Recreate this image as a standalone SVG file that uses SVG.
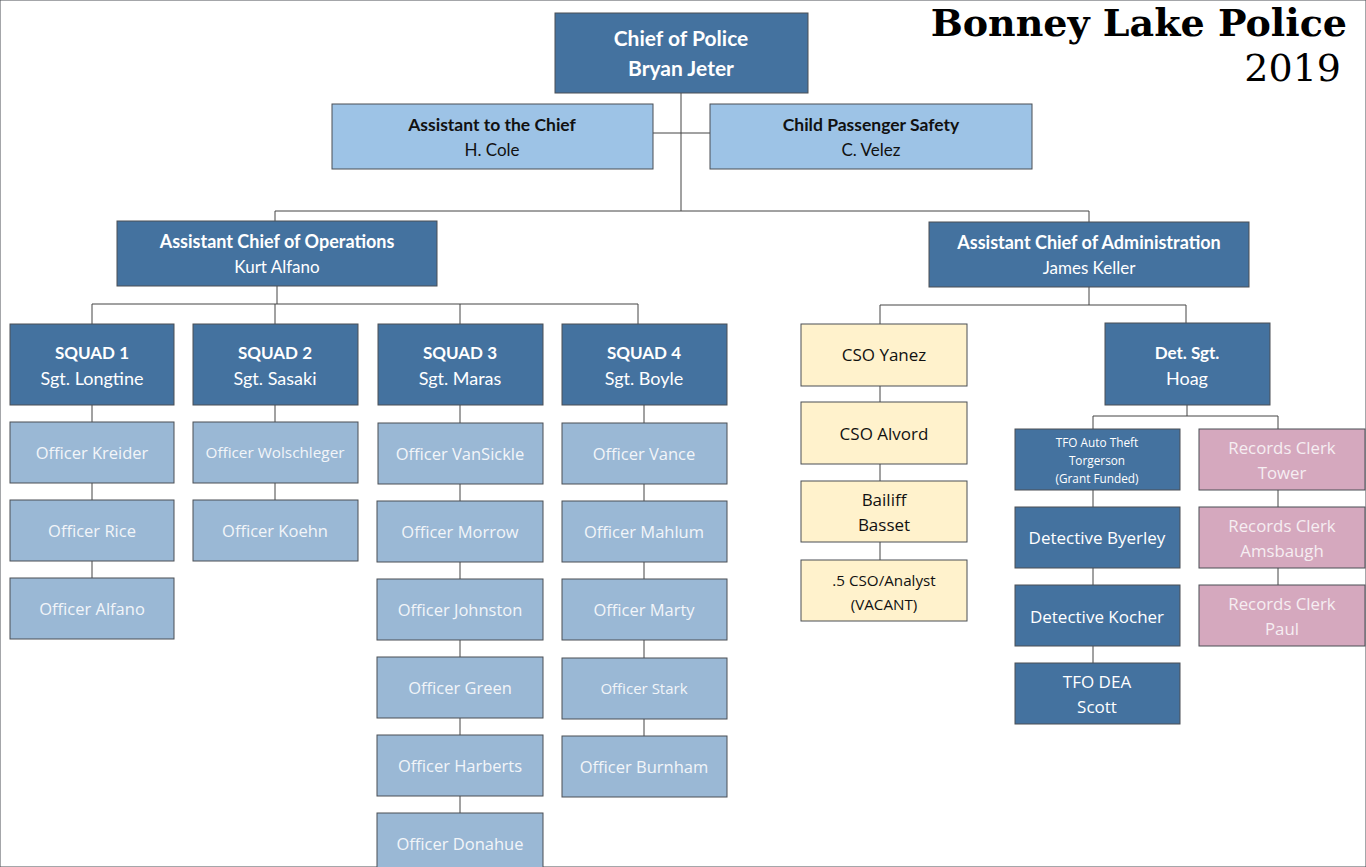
<svg xmlns="http://www.w3.org/2000/svg" width="1366" height="867" viewBox="0 0 1366 867">
<style>
rect{stroke:#4a4f55;stroke-width:1}
.dk{fill:#44729f}
.lt{fill:#9dc3e6}
.of{fill:#9ab8d5}
.cs{fill:#fff2cc}
.pk{fill:#d5a8be}
text{font-family:Lato,"Open Sans","Liberation Sans",sans-serif;text-anchor:middle}
.hw{fill:#fff;font-weight:bold;font-size:17px}
.nw{fill:#fff;font-size:18px}
.hb{fill:#111;font-weight:bold;font-size:17.5px}
.nb{fill:#111;font-size:17px}
.ot{fill:#f2f5f9;font-family:"Open Sans",Lato,sans-serif;font-size:16.5px}
.ct{fill:#111;font-family:"Open Sans",Lato,sans-serif;font-size:17px}
.pt{fill:#f6eef2;font-family:"Open Sans",Lato,sans-serif;font-size:16.8px}
.dt{fill:#fff;font-family:"Open Sans",Lato,sans-serif;font-size:17px}
#conn line{stroke:#444;stroke-width:1}
</style>
<rect width="1366" height="867" fill="#fff" stroke="none"/>
<g id="title">
<text x="1347" y="35.5" style="font-family:'DejaVu Serif','Liberation Serif',serif;font-weight:bold;font-size:38px;text-anchor:end;fill:#000">Bonney Lake Police</text>
<text x="1341" y="81" style="font-family:'DejaVu Serif','Liberation Serif',serif;font-size:38px;text-anchor:end;fill:#000">2019</text>
</g>
<g id="conn">
<line x1="681" y1="93" x2="681" y2="211"/>
<line x1="653" y1="133" x2="710" y2="133"/>
<line x1="275" y1="211" x2="1089" y2="211"/>
<line x1="275" y1="211" x2="275" y2="221"/>
<line x1="1089" y1="211" x2="1089" y2="222"/>
<line x1="277" y1="286" x2="277" y2="304"/>
<line x1="92" y1="304" x2="638" y2="304"/>
<line x1="92" y1="304" x2="92" y2="324"/>
<line x1="275" y1="304" x2="275" y2="324"/>
<line x1="460" y1="304" x2="460" y2="324"/>
<line x1="638" y1="304" x2="638" y2="324"/>
<line x1="92" y1="405" x2="92" y2="578"/>
<line x1="275" y1="405" x2="275" y2="500"/>
<line x1="460" y1="405" x2="460" y2="813"/>
<line x1="644" y1="405" x2="644" y2="736"/>
<line x1="1089" y1="287" x2="1089" y2="305"/>
<line x1="880" y1="305" x2="1186" y2="305"/>
<line x1="880" y1="305" x2="880" y2="324"/>
<line x1="1186" y1="305" x2="1186" y2="323"/>
<line x1="880" y1="386" x2="880" y2="560"/>
<line x1="1187" y1="405" x2="1187" y2="416"/>
<line x1="1093" y1="416" x2="1278" y2="416"/>
<line x1="1093" y1="416" x2="1093" y2="663"/>
<line x1="1278" y1="416" x2="1278" y2="585"/>
</g>
<g id="chief"><rect class="dk" x="555" y="13" width="253" height="80"/><text class="hw" x="681" y="46" style="font-size:21px">Chief of Police</text><text class="hw" x="681" y="76" style="font-size:21px">Bryan Jeter</text></g>
<g id="asst"><rect class="lt" x="332" y="104" width="321" height="65"/><text class="hb" x="492" y="131">Assistant to the Chief</text><text class="nb" x="492" y="156">H. Cole</text></g>
<g id="cps"><rect class="lt" x="710" y="104" width="322" height="65"/><text class="hb" x="871" y="131">Child Passenger Safety</text><text class="nb" x="871" y="156">C. Velez</text></g>
<g id="ops"><rect class="dk" x="117" y="221" width="320" height="65"/><text class="hw" x="277" y="248" style="font-size:18px">Assistant Chief of Operations</text><text class="nw" x="277" y="273" style="font-size:17px">Kurt Alfano</text></g>
<g id="admin"><rect class="dk" x="929" y="222" width="320" height="65"/><text class="hw" x="1089" y="249" style="font-size:18px">Assistant Chief of Administration</text><text class="nw" x="1089" y="274" style="font-size:17px">James Keller</text></g>
<g id="sq1"><rect class="dk" x="10" y="324" width="164" height="81"/><text class="hw" x="92" y="359">SQUAD 1</text><text class="nw" x="92" y="385">Sgt. Longtine</text></g>
<g id="sq2"><rect class="dk" x="193" y="324" width="165" height="81"/><text class="hw" x="275" y="359">SQUAD 2</text><text class="nw" x="275" y="385">Sgt. Sasaki</text></g>
<g id="sq3"><rect class="dk" x="378" y="324" width="165" height="81"/><text class="hw" x="460" y="359">SQUAD 3</text><text class="nw" x="460" y="385">Sgt. Maras</text></g>
<g id="sq4"><rect class="dk" x="562" y="324" width="165" height="81"/><text class="hw" x="644" y="359">SQUAD 4</text><text class="nw" x="644" y="385">Sgt. Boyle</text></g>
<g id="kreider"><rect class="of" x="10" y="422" width="164" height="61"/><text class="ot" x="92" y="459">Officer Kreider</text></g>
<g id="rice"><rect class="of" x="10" y="500" width="164" height="61"/><text class="ot" x="92" y="537">Officer Rice</text></g>
<g id="alfano"><rect class="of" x="10" y="578" width="164" height="61"/><text class="ot" x="92" y="615">Officer Alfano</text></g>
<g id="wolschleger"><rect class="of" x="193" y="422" width="165" height="61"/><text class="ot" x="275" y="458" style="font-size:15.3px">Officer Wolschleger</text></g>
<g id="koehn"><rect class="of" x="193" y="500" width="165" height="61"/><text class="ot" x="275" y="537">Officer Koehn</text></g>
<g id="vansickle"><rect class="of" x="378" y="423" width="165" height="61"/><text class="ot" x="460" y="460">Officer VanSickle</text></g>
<g id="morrow"><rect class="of" x="377" y="501" width="166" height="61"/><text class="ot" x="460" y="538">Officer Morrow</text></g>
<g id="johnston"><rect class="of" x="377" y="579" width="166" height="61"/><text class="ot" x="460" y="616">Officer Johnston</text></g>
<g id="green"><rect class="of" x="377" y="657" width="166" height="61"/><text class="ot" x="460" y="694">Officer Green</text></g>
<g id="harberts"><rect class="of" x="377" y="735" width="166" height="61"/><text class="ot" x="460" y="772">Officer Harberts</text></g>
<g id="donahue"><rect class="of" x="377" y="813" width="166" height="61"/><text class="ot" x="460" y="850">Officer Donahue</text></g>
<g id="vance"><rect class="of" x="562" y="423" width="165" height="61"/><text class="ot" x="644" y="460">Officer Vance</text></g>
<g id="mahlum"><rect class="of" x="562" y="501" width="165" height="61"/><text class="ot" x="644" y="538">Officer Mahlum</text></g>
<g id="marty"><rect class="of" x="562" y="579" width="165" height="61"/><text class="ot" x="644" y="616">Officer Marty</text></g>
<g id="stark"><rect class="of" x="562" y="658" width="165" height="61"/><text class="ot" x="644" y="694" style="font-size:15px">Officer Stark</text></g>
<g id="burnham"><rect class="of" x="562" y="736" width="165" height="61"/><text class="ot" x="644" y="773">Officer Burnham</text></g>
<g id="yanez"><rect class="cs" x="801" y="324" width="166" height="62"/><text class="ct" x="884" y="361">CSO Yanez</text></g>
<g id="alvord"><rect class="cs" x="801" y="402" width="166" height="62"/><text class="ct" x="884" y="440">CSO Alvord</text></g>
<g id="bailiff"><rect class="cs" x="801" y="481" width="166" height="61"/><text class="ct" x="884" y="506">Bailiff</text><text class="ct" x="884" y="531">Basset</text></g>
<g id="analyst"><rect class="cs" x="801" y="560" width="166" height="61"/><text class="ct" x="884" y="586" style="font-size:15.2px">.5 CSO/Analyst</text><text class="ct" x="884" y="610" style="font-size:15.2px">(VACANT)</text></g>
<g id="detsgt"><rect class="dk" x="1105" y="323" width="165" height="82"/><text class="hw" x="1187" y="359">Det. Sgt.</text><text class="nw" x="1187" y="385">Hoag</text></g>
<g id="tfoauto"><rect class="dk" x="1015" y="429" width="165" height="61"/><text class="dt" x="1097" y="447" style="font-size:11.8px">TFO Auto Theft</text><text class="dt" x="1097" y="465" style="font-size:11.8px">Torgerson</text><text class="dt" x="1097" y="483" style="font-size:11.8px">(Grant Funded)</text></g>
<g id="byerley"><rect class="dk" x="1015" y="507" width="165" height="61"/><text class="dt" x="1097" y="544">Detective Byerley</text></g>
<g id="kocher"><rect class="dk" x="1015" y="585" width="165" height="61"/><text class="dt" x="1097" y="623">Detective Kocher</text></g>
<g id="tfodea"><rect class="dk" x="1015" y="663" width="165" height="61"/><text class="dt" x="1097" y="688">TFO DEA</text><text class="dt" x="1097" y="713">Scott</text></g>
<g id="tower"><rect class="pk" x="1199" y="429" width="166" height="61"/><text class="pt" x="1282" y="454">Records Clerk</text><text class="pt" x="1282" y="479">Tower</text></g>
<g id="amsbaugh"><rect class="pk" x="1199" y="507" width="166" height="61"/><text class="pt" x="1282" y="532">Records Clerk</text><text class="pt" x="1282" y="557">Amsbaugh</text></g>
<g id="paul"><rect class="pk" x="1199" y="585" width="166" height="61"/><text class="pt" x="1282" y="610">Records Clerk</text><text class="pt" x="1282" y="635">Paul</text></g>
</svg>
